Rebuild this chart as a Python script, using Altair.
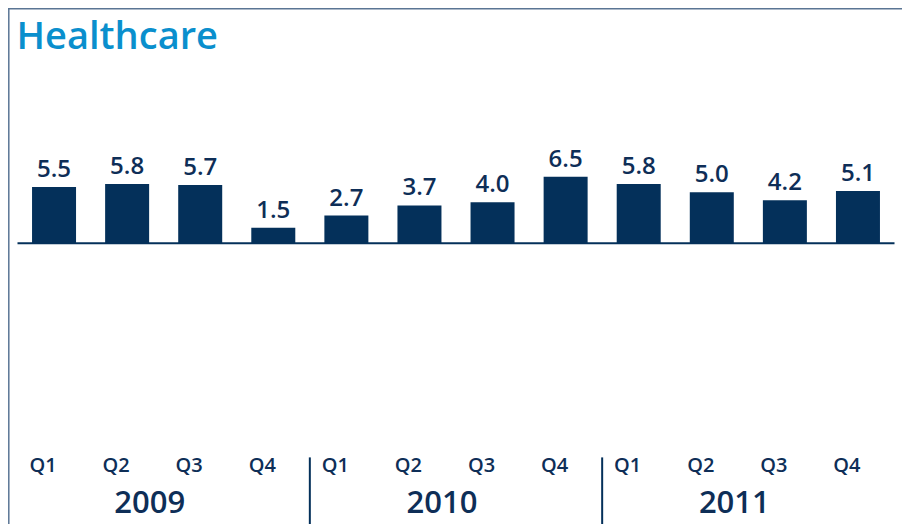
import altair as alt
import pandas as pd

title_text = "Healthcare"
quarters = ["Q1", "Q2", "Q3", "Q4", "Q1", "Q2", "Q3", "Q4", "Q1", "Q2", "Q3", "Q4"]
years_of_quarter = ["2009"] * 4 + ["2010"] * 4 + ["2011"] * 4
values = [5.5, 5.8, 5.7, 1.5, 2.7, 3.7, 4.0, 6.5, 5.8, 5.0, 4.2, 5.1]
year_labels = ["2009", "2010", "2011"]

NAVY = "#04305a"
TEXT = "#0e2e57"
BLUE = "#0a8fcd"
FONT = "Open Sans"

W, H = 877, 388
df = pd.DataFrame({
    "idx": list(range(len(values))),
    "quarter": quarters,
    "year": years_of_quarter,
    "value": values,
})
df["label"] = [f"{v:.1f}" for v in values]

years_df = pd.DataFrame({"year": year_labels})
years_df["mid"] = [4 * i + 1.5 for i in range(len(year_labels))]
sep_df = pd.DataFrame({"sep": [4 * i - 0.5 for i in range(1, len(year_labels))]})

xscale = alt.Scale(domain=[-0.5, len(values) - 0.5], nice=False, zero=False, padding=0)
yscale = alt.Scale(domain=[-20, 18], nice=False, zero=False, padding=0)

base = alt.Chart(df)

bars = base.mark_bar(size=44, color=NAVY).encode(
    x=alt.X("idx:Q", scale=xscale, axis=None),
    y=alt.Y("value:Q", scale=yscale, axis=None),
)

labels = base.mark_text(font=FONT, fontSize=24, fontWeight=600, color=TEXT,
                        baseline="alphabetic", dy=-10).encode(
    x=alt.X("idx:Q", scale=xscale),
    y=alt.Y("value:Q", scale=yscale),
    text="label:N",
)

qlabels = base.mark_text(font=FONT, fontSize=20, fontWeight=600, color=TEXT,
                         baseline="alphabetic", dx=-11).encode(
    x=alt.X("idx:Q", scale=xscale),
    y=alt.value(H + 25),
    text="quarter:N",
)

zero_rule = alt.Chart(pd.DataFrame({"z": [0]})).mark_rule(color=NAVY, strokeWidth=2).encode(
    y=alt.Y("z:Q", scale=yscale),
)

years = alt.Chart(years_df).mark_text(font=FONT, fontSize=31, fontWeight=600, color=TEXT,
                                      baseline="alphabetic", dx=-14).encode(
    x=alt.X("mid:Q", scale=xscale),
    y=alt.value(H + 66),
    text="year:N",
)

seps = alt.Chart(sep_df).mark_rule(color=NAVY, strokeWidth=2).encode(
    x=alt.X("sep:Q", scale=xscale),
    y=alt.value(H + 10),
    y2=alt.value(H + 90),
)

title = alt.Chart(pd.DataFrame({"t": [title_text]})).mark_text(
    font=FONT, fontSize=38, fontWeight=600, color=BLUE, align="left", baseline="alphabetic"
).encode(
    x=alt.value(-1), y=alt.value(-10.5), text="t:N",
)

border_left = alt.Chart(pd.DataFrame({"a": [0]})).mark_rule(color="#5a7594", strokeWidth=1.5).encode(
    x=alt.value(-8.7), y=alt.value(-52), y2=alt.value(H + 80),
)
border_top = alt.Chart(pd.DataFrame({"a": [0]})).mark_rule(color="#5a7594", strokeWidth=1.5).encode(
    y=alt.value(-50.6), x=alt.value(-10), x2=alt.value(W + 10),
)

chart = alt.layer(bars, labels, qlabels, zero_rule, years, seps, title, border_left, border_top).properties(
    width=W,
    height=H,
    background="white",
    autosize=alt.AutoSizeParams(type="none"),
    padding={"left": 9.5, "top": 51.4, "right": 7.5, "bottom": 76.6},
).configure_view(stroke="transparent", strokeWidth=0)

chart.save("out.html", embed_options={"renderer": "svg", "actions": False})
